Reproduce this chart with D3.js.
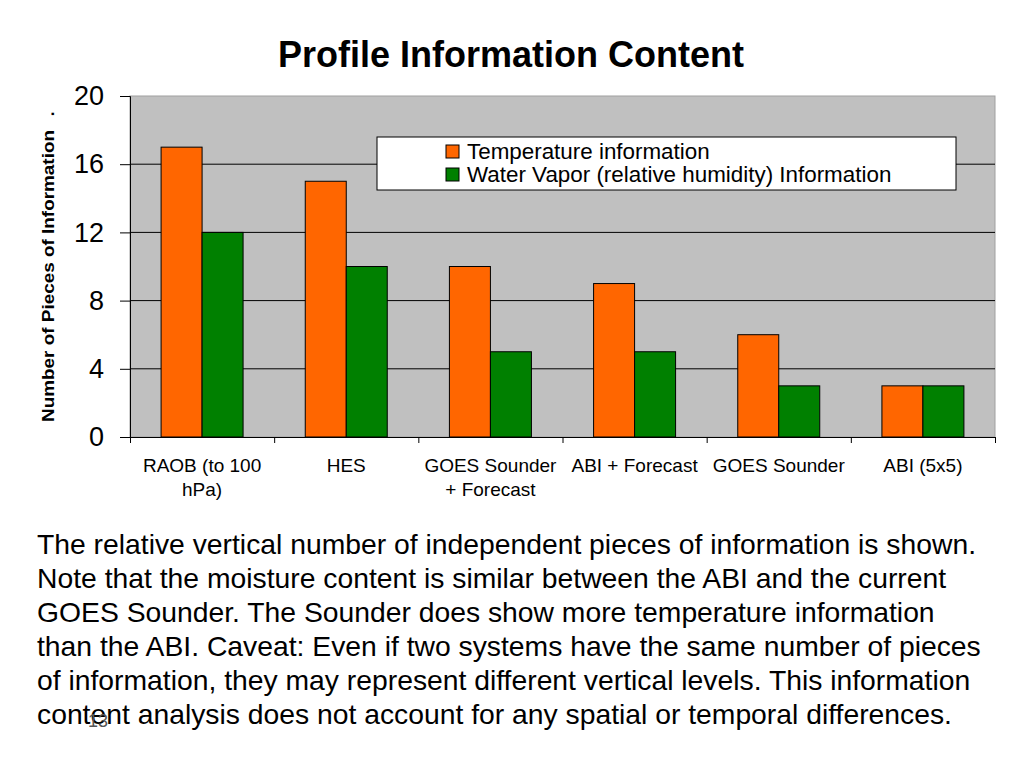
<!DOCTYPE html>
<html>
<head>
<meta charset="utf-8">
<script src="https://cdn.jsdelivr.net/npm/d3@7"></script>
<style>
  body { margin: 0; background: #fff; }
  svg { font-family: "Liberation Sans", Arial, sans-serif; }
</style>
</head>
<body>
<svg id="chart" width="1024" height="768"></svg>
<script>
const categories = ["RAOB (to 100|hPa)", "HES", "GOES Sounder|+ Forecast", "ABI + Forecast", "GOES Sounder", "ABI (5x5)"];
const temperature = [17, 15, 10, 9, 6, 3];
const waterVapor = [12, 10, 5, 5, 3, 3];
const seriesNames = ["Temperature information", "Water Vapor (relative humidity) Information"];
const yTicks = [0, 4, 8, 12, 16, 20];
const bodyLines = [
  "The relative vertical number of independent pieces of information is shown.",
  "Note that the moisture content is similar between the ABI and the current",
  "GOES Sounder. The Sounder does show more temperature information",
  "than the ABI. Caveat: Even if two systems have the same number of pieces",
  "of information, they may represent different vertical levels. This information",
  "content analysis does not account for any spatial or temporal differences."
];

const colors = ["#ff6600", "#008000"];
const svg = d3.select("#chart");
const plotLeft = 130, plotRight = 995, plotTop = 96, plotBottom = 437;

svg.append("text")
   .attr("x", 511).attr("y", 67)
   .attr("text-anchor", "middle")
   .attr("font-size", 36).attr("font-weight", "bold")
   .text("Profile Information Content");

const x0 = d3.scaleBand().domain(categories).range([plotLeft, plotRight]);
const x1 = d3.scaleBand().domain([0, 1]).range([0, 82]);
const y = d3.scaleLinear().domain([0, 20]).range([plotBottom, plotTop]);

// plot area
svg.append("rect")
   .attr("x", plotLeft).attr("y", plotTop)
   .attr("width", plotRight - plotLeft).attr("height", plotBottom - plotTop)
   .attr("fill", "#c0c0c0").attr("stroke", "#a0a0a0");

// gridlines
svg.selectAll(".grid")
   .data(yTicks.filter(d => d > 0 && d < 20))
   .enter().append("line")
   .attr("x1", plotLeft).attr("x2", plotRight)
   .attr("y1", d => y(d)).attr("y2", d => y(d))
   .attr("stroke", "#000").attr("stroke-width", 1);

// bars
const groups = svg.selectAll(".grp")
   .data(categories)
   .enter().append("g")
   .attr("transform", d => `translate(${x0(d) + (x0.bandwidth() - 82) / 2},0)`);

groups.selectAll("rect")
   .data((d, i) => [temperature[i], waterVapor[i]])
   .enter().append("rect")
   .attr("x", (d, j) => x1(j))
   .attr("y", d => y(d))
   .attr("width", x1.bandwidth())
   .attr("height", d => plotBottom - y(d))
   .attr("fill", (d, j) => colors[j])
   .attr("stroke", "#000").attr("stroke-width", 1);

// y axis
const yAxis = svg.append("g")
   .attr("transform", `translate(${plotLeft},0)`)
   .call(d3.axisLeft(y).tickValues(yTicks).tickSize(10).tickPadding(16));
yAxis.select(".domain").attr("stroke", "#000");
yAxis.selectAll("text").attr("font-size", 27).attr("font-family", "Liberation Sans, Arial, sans-serif").attr("fill", "#000");

// x axis
const xAxis = svg.append("g")
   .attr("transform", `translate(0,${plotBottom})`)
   .call(d3.axisBottom(d3.scaleLinear().domain([0, 6]).range([plotLeft, plotRight]))
         .tickValues(d3.range(0, 7)).tickSize(6).tickFormat(""));
xAxis.select(".domain").attr("stroke", "#000");

const catLabels = svg.selectAll(".cat")
   .data(categories)
   .enter().append("text")
   .attr("x", d => x0(d) + x0.bandwidth() / 2)
   .attr("y", 472)
   .attr("text-anchor", "middle")
   .attr("font-size", 19);
catLabels.selectAll("tspan")
   .data(d => d.split("|"))
   .enter().append("tspan")
   .attr("x", function () { return d3.select(this.parentNode).attr("x"); })
   .attr("dy", (d, i) => i === 0 ? 0 : 24)
   .text(d => d);

// y label
svg.append("text")
   .attr("transform", "translate(54,276) rotate(-90)")
   .attr("text-anchor", "middle")
   .attr("font-size", 17).attr("font-weight", "bold")
   .attr("textLength", 292).attr("lengthAdjust", "spacingAndGlyphs")
   .text("Number of Pieces of Information");
svg.append("text")
   .attr("transform", "translate(54,114) rotate(-90)")
   .attr("text-anchor", "middle")
   .attr("font-size", 17).attr("font-weight", "bold")
   .text(".");

// legend
const legend = svg.append("g").attr("transform", "translate(377,137)");
legend.append("rect")
   .attr("width", 579).attr("height", 53)
   .attr("fill", "#fff").attr("stroke", "#000");
seriesNames.forEach((name, i) => {
  legend.append("rect")
     .attr("x", 69).attr("y", 8 + i * 23)
     .attr("width", 13).attr("height", 13)
     .attr("fill", colors[i]).attr("stroke", "#000");
  legend.append("text")
     .attr("x", 90).attr("y", 22 + i * 23)
     .attr("font-size", 22.4)
     .text(name);
});

// body text
svg.selectAll(".body")
   .data(bodyLines)
   .enter().append("text")
   .attr("x", 37)
   .attr("y", (d, i) => 554 + i * 34)
   .attr("font-size", 28.3)
   .text(d => d);

// slide number, overlapping the last line as in the original slide
svg.append("text")
   .attr("x", 88).attr("y", 727)
   .attr("font-size", 18).attr("fill", "#555")
   .text("13");
</script>
</body>
</html>
